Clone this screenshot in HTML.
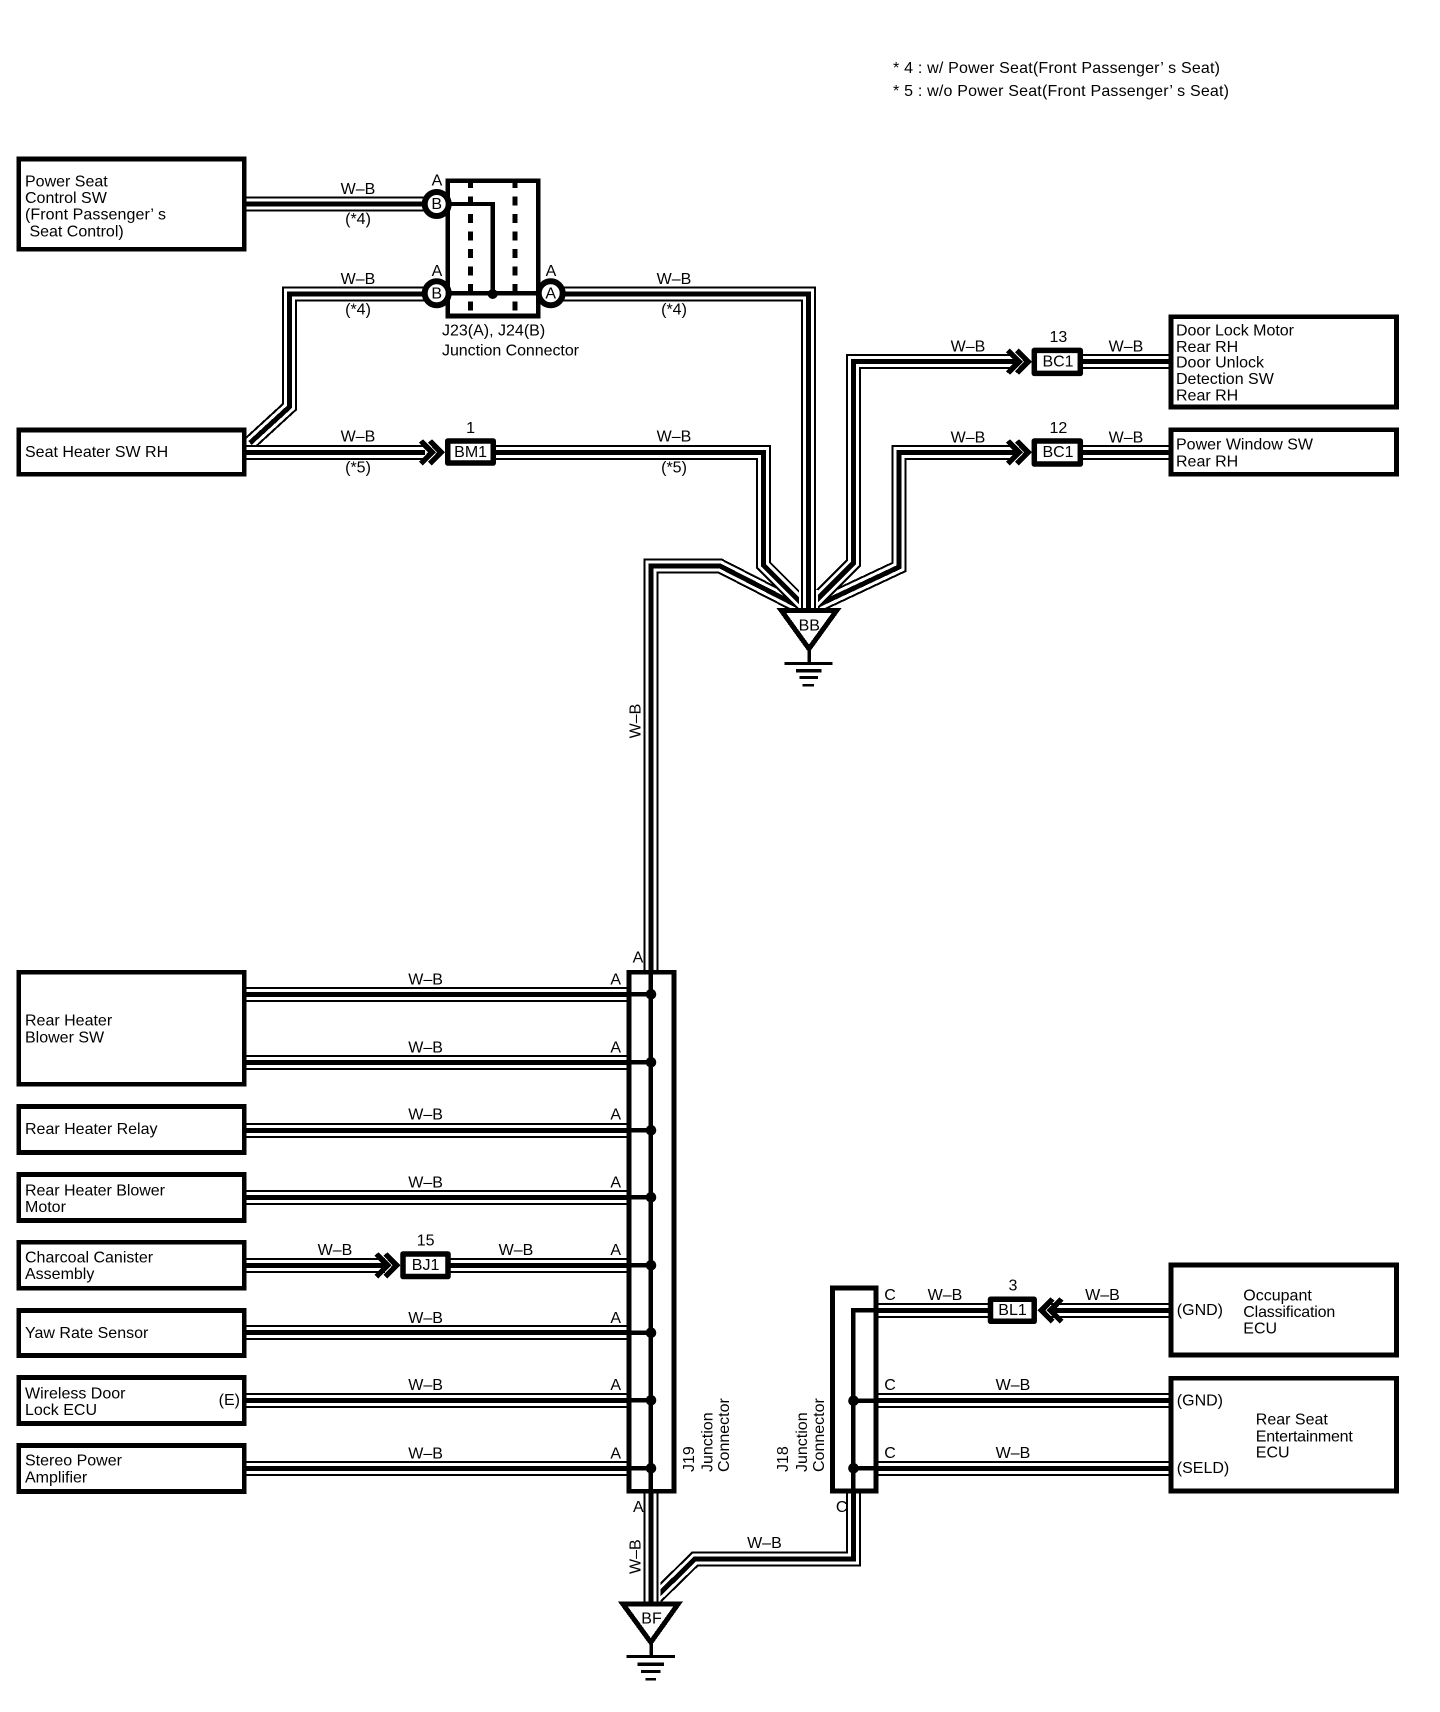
<!DOCTYPE html>
<html><head><meta charset="utf-8"><style>
html,body{margin:0;padding:0;background:#fff}
svg{display:block}
text{font-family:"Liberation Sans",sans-serif;font-size:16px;fill:#000;white-space:pre}
text:not([transform]){transform:translateY(-1px)}
.m{text-anchor:middle}
.e{text-anchor:end}
.o,.w,.c,.b,.l{fill:none;shape-rendering:crispEdges}
.o{stroke:#000;stroke-width:15}
.w{stroke:#fff;stroke-width:11}
.c{stroke:#000;stroke-width:5}
.b{stroke:#000;stroke-width:4.7;fill:#fff}
.k{stroke:#000;stroke-width:5.5;fill:#fff;stroke-linejoin:round}
.v{fill:none;stroke:#000;stroke-width:5.5;shape-rendering:crispEdges}
.l{stroke:#000;stroke-width:4.5}
.d{fill:#000}
.h{fill:none;stroke:#fff;stroke-width:19;shape-rendering:crispEdges}
</style></head><body>
<svg width="1440" height="1712" viewBox="0 0 1440 1712" xmlns="http://www.w3.org/2000/svg">
<rect width="1440" height="1712" fill="#fff"/>
<defs>
<path id="a1" d="M246 204H430"/>
<path id="a2" d="M250 443L289.3 407V294H430"/>
<path id="a3" d="M246 452.3H425"/>
<path id="a4" d="M490 452.3H763.3V565L805 606.7"/>
<path id="a5" d="M545 294H808.6V608"/>
<path id="a6" d="M1015 361.7H853.5V563L812 604.5"/>
<path id="a7" d="M1075 361.7H1172"/>
<path id="a8" d="M1015 452.3H899V567L808 609.8"/>
<path id="a9" d="M1075 452.3H1172"/>
<path id="a10" d="M651 970V566H720L802 608"/>
<path id="b1" d="M246 994.3H627"/>
<path id="b2" d="M246 1062.3H627"/>
<path id="b3" d="M246 1130.3H627"/>
<path id="b4" d="M246 1197.3H627"/>
<path id="b5" d="M246 1265.3H385"/>
<path id="b6" d="M445 1265.3H627"/>
<path id="b7" d="M246 1332.7H627"/>
<path id="b8" d="M246 1400.3H627"/>
<path id="b9" d="M246 1468.3H627"/>
<path id="c1" d="M651 1493V1606"/>
<path id="c2" d="M853.3 1493V1559H695L650 1603"/>
<path id="e1" d="M878 1310.3H990"/>
<path id="e2" d="M1050 1310.3H1172"/>
<path id="e3" d="M878 1400.7H1172"/>
<path id="e4" d="M878 1468.3H1172"/>
</defs>

<!-- legend -->
<text x="893" y="74" textLength="327">* 4 : w/ Power Seat(Front Passenger’ s Seat)</text>
<text x="893" y="97" textLength="336">* 5 : w/o Power Seat(Front Passenger’ s Seat)</text>

<!-- upper wires -->
<use href="#a1" class="o"/><use href="#a1" class="w"/><use href="#a1" class="c"/>
<use href="#a2" class="o"/><use href="#a2" class="w"/><use href="#a2" class="c"/>
<use href="#a3" class="o"/><use href="#a3" class="w"/><use href="#a3" class="c"/>
<use href="#a10" class="o"/><use href="#a10" class="w"/><use href="#a10" class="c"/>
<use href="#a8" class="o"/><use href="#a8" class="w"/><use href="#a8" class="c"/>
<use href="#a9" class="o"/><use href="#a9" class="w"/><use href="#a9" class="c"/>
<use href="#a6" class="o"/><use href="#a6" class="w"/><use href="#a6" class="c"/>
<use href="#a7" class="o"/><use href="#a7" class="w"/><use href="#a7" class="c"/>
<use href="#a4" class="o"/><use href="#a4" class="w"/><use href="#a4" class="c"/>
<path class="h" d="M808.6 590V608"/>
<use href="#a5" class="o"/><use href="#a5" class="w"/><use href="#a5" class="c"/>

<!-- boxes upper -->
<rect class="b" x="18.8" y="159" width="225.4" height="90.4"/>
<rect class="b" x="18.8" y="430" width="225.4" height="44.4"/>
<rect class="b" x="1171" y="316.6" width="225.4" height="90.4"/>
<rect class="b" x="1171" y="429.6" width="225.4" height="44.8"/>

<!-- junction J23/J24 -->
<rect class="b" x="447.8" y="180.8" width="90.4" height="135.2" stroke-width="5"/>
<path d="M470.3 179V316M515 179V316" fill="none" stroke="#000" stroke-width="5" stroke-dasharray="9 8.5" shape-rendering="crispEdges"/>
<path d="M450 204H492.7V293.3M450 293.3H536" fill="none" stroke="#000" stroke-width="4.2" shape-rendering="crispEdges"/>
<circle class="d" cx="492.7" cy="294" r="5"/>
<circle cx="436.7" cy="204" r="12" fill="#fff" stroke="#000" stroke-width="6"/>
<circle cx="436.7" cy="293.3" r="12" fill="#fff" stroke="#000" stroke-width="6"/>
<circle cx="550.7" cy="293.3" r="12" fill="#fff" stroke="#000" stroke-width="6"/>
<text class="m" x="436.7" y="210">B</text>
<text class="m" x="436.7" y="299.3">B</text>
<text class="m" x="550.7" y="299.3">A</text>
<text class="m" x="437" y="186.7">A</text>
<text class="m" x="437" y="277">A</text>
<text class="m" x="551" y="277">A</text>
<text x="442" y="336.7">J23(A), J24(B)</text>
<text x="442" y="356.7" textLength="137">Junction Connector</text>

<!-- connectors upper -->
<path class="v" d="M421 441L432 452.3L421 463.6M430 441L441 452.3L430 463.6"/>
<rect class="k" x="447.75" y="441" width="45.5" height="22"/>
<text class="m" x="470.6" y="458">BM1</text>
<text class="m" x="470.6" y="434">1</text>

<path class="v" d="M1008 350.4L1019 361.7L1008 373M1017 350.4L1028 361.7L1017 373"/>
<rect class="k" x="1034.3" y="350.4" width="46" height="23"/>
<text class="m" x="1058" y="367.7">BC1</text>
<text class="m" x="1058.4" y="343">13</text>
<path class="v" d="M1008 441L1019 452.3L1008 463.6M1017 441L1028 452.3L1017 463.6"/>
<rect class="k" x="1034.3" y="441" width="46" height="23"/>
<text class="m" x="1058" y="458">BC1</text>
<text class="m" x="1058.4" y="434">12</text>

<!-- upper labels -->
<text class="m" x="358" y="195">W–B</text>
<text class="m" x="358" y="225">(*4)</text>
<text class="m" x="358" y="285">W–B</text>
<text class="m" x="358" y="315.7">(*4)</text>
<text class="m" x="674" y="285">W–B</text>
<text class="m" x="674" y="315.7">(*4)</text>
<text class="m" x="358" y="442.3">W–B</text>
<text class="m" x="358" y="473.4">(*5)</text>
<text class="m" x="674" y="442.3">W–B</text>
<text class="m" x="674" y="473.4">(*5)</text>
<text class="m" x="968" y="352.7">W–B</text>
<text class="m" x="1126" y="352.7">W–B</text>
<text class="m" x="968" y="443.3">W–B</text>
<text class="m" x="1126" y="443.3">W–B</text>

<text x="25" y="187.3">Power Seat</text>
<text x="25" y="204">Control SW</text>
<text x="25" y="220.7" textLength="141">(Front Passenger’ s</text>
<text x="25" y="237.3"> Seat Control)</text>
<text x="25" y="458">Seat Heater SW RH</text>
<text x="1176" y="336.3" textLength="118">Door Lock Motor</text>
<text x="1176" y="353">Rear RH</text>
<text x="1176" y="368.3">Door Unlock</text>
<text x="1176" y="385">Detection SW</text>
<text x="1176" y="401.7">Rear RH</text>
<text x="1176" y="450.7" textLength="137">Power Window SW</text>
<text x="1176" y="467.3">Rear RH</text>

<!-- BB ground -->
<path d="M781.5 610.7H836.5L809 648.8Z" fill="#fff" stroke="#000" stroke-width="5" shape-rendering="crispEdges"/>
<path d="M809 650V663" stroke="#000" stroke-width="3.5" shape-rendering="crispEdges"/>
<path d="M784.3 663.3H832.7" stroke="#000" stroke-width="3" shape-rendering="crispEdges"/>
<path d="M796 670.7H821.7" stroke="#000" stroke-width="3.5" shape-rendering="crispEdges"/>
<path d="M799.3 677.7H818" stroke="#000" stroke-width="3" shape-rendering="crispEdges"/>
<path d="M802.7 685H814" stroke="#000" stroke-width="2.5" shape-rendering="crispEdges"/>
<text class="m" x="809.3" y="631.4">BB</text>

<text transform="translate(640.7 721) rotate(-90)" class="m">W–B</text>

<!-- lower wires -->
<use href="#b1" class="o"/><use href="#b1" class="w"/><use href="#b1" class="c"/>
<use href="#b2" class="o"/><use href="#b2" class="w"/><use href="#b2" class="c"/>
<use href="#b3" class="o"/><use href="#b3" class="w"/><use href="#b3" class="c"/>
<use href="#b4" class="o"/><use href="#b4" class="w"/><use href="#b4" class="c"/>
<use href="#b5" class="o"/><use href="#b5" class="w"/><use href="#b5" class="c"/>
<use href="#b6" class="o"/><use href="#b6" class="w"/><use href="#b6" class="c"/>
<use href="#b7" class="o"/><use href="#b7" class="w"/><use href="#b7" class="c"/>
<use href="#b8" class="o"/><use href="#b8" class="w"/><use href="#b8" class="c"/>
<use href="#b9" class="o"/><use href="#b9" class="w"/><use href="#b9" class="c"/>
<use href="#c2" class="o"/><use href="#c2" class="w"/><use href="#c2" class="c"/>
<path class="h" d="M651 1575V1606"/>
<use href="#c1" class="o"/><use href="#c1" class="w"/><use href="#c1" class="c"/>
<use href="#e1" class="o"/><use href="#e1" class="w"/><use href="#e1" class="c"/>
<use href="#e2" class="o"/><use href="#e2" class="w"/><use href="#e2" class="c"/>
<use href="#e3" class="o"/><use href="#e3" class="w"/><use href="#e3" class="c"/>
<use href="#e4" class="o"/><use href="#e4" class="w"/><use href="#e4" class="c"/>

<!-- J19 -->
<rect class="b" x="629" y="972.3" width="45" height="519"/>
<path class="l" d="M650.6 965V1494"/>
<path class="l" d="M627 994.3H650M627 1062.3H650M627 1130.3H650M627 1197.3H650M627 1265.3H650M627 1332.7H650M627 1400.3H650M627 1468.3H650"/>
<g class="d">
<circle cx="651" cy="994.3" r="5.3"/><circle cx="651" cy="1062.3" r="5.3"/><circle cx="651" cy="1130.3" r="5.3"/><circle cx="651" cy="1197.3" r="5.3"/><circle cx="651" cy="1265.3" r="5.3"/><circle cx="651" cy="1332.7" r="5.3"/><circle cx="651" cy="1400.3" r="5.3"/><circle cx="651" cy="1468.3" r="5.3"/>
</g>

<!-- J18 -->
<rect class="b" x="832.5" y="1288" width="43.6" height="203"/>
<path class="l" d="M853 1493V1310.3H878M853 1400.7H878M853 1468.3H878"/>
<g class="d"><circle cx="853.5" cy="1400.7" r="5.3"/><circle cx="853.5" cy="1468.3" r="5.3"/></g>

<!-- lower left boxes -->
<rect class="b" x="18.8" y="972.3" width="225.4" height="112"/>
<rect class="b" x="18.8" y="1106.6" width="225.4" height="45.8"/>
<rect class="b" x="18.8" y="1174.6" width="225.4" height="45.8"/>
<rect class="b" x="18.8" y="1242.3" width="225.4" height="46"/>
<rect class="b" x="18.8" y="1310.6" width="225.4" height="44.8"/>
<rect class="b" x="18.8" y="1377.6" width="225.4" height="45.8"/>
<rect class="b" x="18.8" y="1445.6" width="225.4" height="45.8"/>
<text x="25" y="1026.7">Rear Heater</text>
<text x="25" y="1043.3">Blower SW</text>
<text x="25" y="1135">Rear Heater Relay</text>
<text x="25" y="1196.3" textLength="140">Rear Heater Blower</text>
<text x="25" y="1213">Motor</text>
<text x="25" y="1263.3">Charcoal Canister</text>
<text x="25" y="1280">Assembly</text>
<text x="25" y="1339">Yaw Rate Sensor</text>
<text x="25" y="1399.3">Wireless Door</text>
<text x="25" y="1416">Lock ECU</text>
<text class="e" x="240" y="1406">(E)</text>
<text x="25" y="1466.7">Stereo Power</text>
<text x="25" y="1483.3">Amplifier</text>

<!-- BJ1 -->
<path class="v" d="M376.5 1254L387.5 1265.3L376.5 1276.6M385.5 1254L396.5 1265.3L385.5 1276.6"/>
<rect class="k" x="403" y="1254" width="45" height="22.5"/>
<text class="m" x="425.6" y="1271">BJ1</text>
<text class="m" x="425.6" y="1246.5">15</text>

<!-- lower labels -->
<g class="m">
<text class="m" x="425.6" y="985.7">W–B</text>
<text class="m" x="425.6" y="1053.3">W–B</text>
<text class="m" x="425.6" y="1120.7">W–B</text>
<text class="m" x="425.6" y="1188.3">W–B</text>
<text class="m" x="335" y="1256">W–B</text>
<text class="m" x="516" y="1256">W–B</text>
<text class="m" x="425.6" y="1324">W–B</text>
<text class="m" x="425.6" y="1391">W–B</text>
<text class="m" x="425.6" y="1459.3">W–B</text>
<text class="m" x="615.7" y="985.7">A</text>
<text class="m" x="615.7" y="1053.3">A</text>
<text class="m" x="615.7" y="1120.7">A</text>
<text class="m" x="615.7" y="1188.3">A</text>
<text class="m" x="615.7" y="1256">A</text>
<text class="m" x="615.7" y="1324">A</text>
<text class="m" x="615.7" y="1391">A</text>
<text class="m" x="615.7" y="1459.3">A</text>
<text class="m" x="638" y="963.3">A</text>
<text class="m" x="638.3" y="1513">A</text>
<text class="m" x="841.7" y="1513">C</text>
<text class="m" x="764.4" y="1549">W–B</text>
</g>
<text transform="translate(640.7 1556.7) rotate(-90)" class="m">W–B</text>

<text transform="translate(694 1472) rotate(-90)">J19</text>
<text transform="translate(712.5 1472) rotate(-90)">Junction</text>
<text transform="translate(729 1472) rotate(-90)">Connector</text>
<text transform="translate(788 1472) rotate(-90)">J18</text>
<text transform="translate(807 1472) rotate(-90)">Junction</text>
<text transform="translate(824 1472) rotate(-90)">Connector</text>

<!-- BF ground -->
<path d="M623 1604.2H678L650.8 1642.3Z" fill="#fff" stroke="#000" stroke-width="5" shape-rendering="crispEdges"/>
<path d="M651 1644V1657" stroke="#000" stroke-width="3.5" shape-rendering="crispEdges"/>
<path d="M626.7 1656.7H675" stroke="#000" stroke-width="3" shape-rendering="crispEdges"/>
<path d="M637.7 1664H664" stroke="#000" stroke-width="3.5" shape-rendering="crispEdges"/>
<path d="M641 1671.7H660.3" stroke="#000" stroke-width="3" shape-rendering="crispEdges"/>
<path d="M645.3 1679.3H656" stroke="#000" stroke-width="2.5" shape-rendering="crispEdges"/>
<text class="m" x="651.5" y="1624.5">BF</text>

<!-- right lower -->
<path class="v" d="M1052.5 1299L1041.5 1310.3L1052.5 1321.6M1061.5 1299L1050.5 1310.3L1061.5 1321.6"/>
<rect class="k" x="990.5" y="1299.3" width="43.7" height="22"/>
<text class="m" x="1012.5" y="1316">BL1</text>
<text class="m" x="1013" y="1291.7">3</text>
<rect class="b" x="1171" y="1265" width="225.4" height="90"/>
<rect class="b" x="1171" y="1378.3" width="225.4" height="112.6"/>
<text x="890" y="1301" class="m">C</text>
<text x="890" y="1391" class="m">C</text>
<text x="890" y="1459" class="m">C</text>
<text class="m" x="945" y="1301">W–B</text>
<text class="m" x="1102.5" y="1301">W–B</text>
<text class="m" x="1013" y="1391">W–B</text>
<text class="m" x="1013" y="1459">W–B</text>
<text x="1176.8" y="1316">(GND)</text>
<text x="1176.8" y="1406.3">(GND)</text>
<text x="1176.8" y="1474">(SELD)</text>
<text x="1243.3" y="1301.3">Occupant</text>
<text x="1243.3" y="1318" textLength="92">Classification</text>
<text x="1243.3" y="1334.7">ECU</text>
<text x="1255.8" y="1425.7">Rear Seat</text>
<text x="1255.8" y="1442.3" textLength="97">Entertainment</text>
<text x="1255.8" y="1458.7">ECU</text>
</svg>
</body></html>
